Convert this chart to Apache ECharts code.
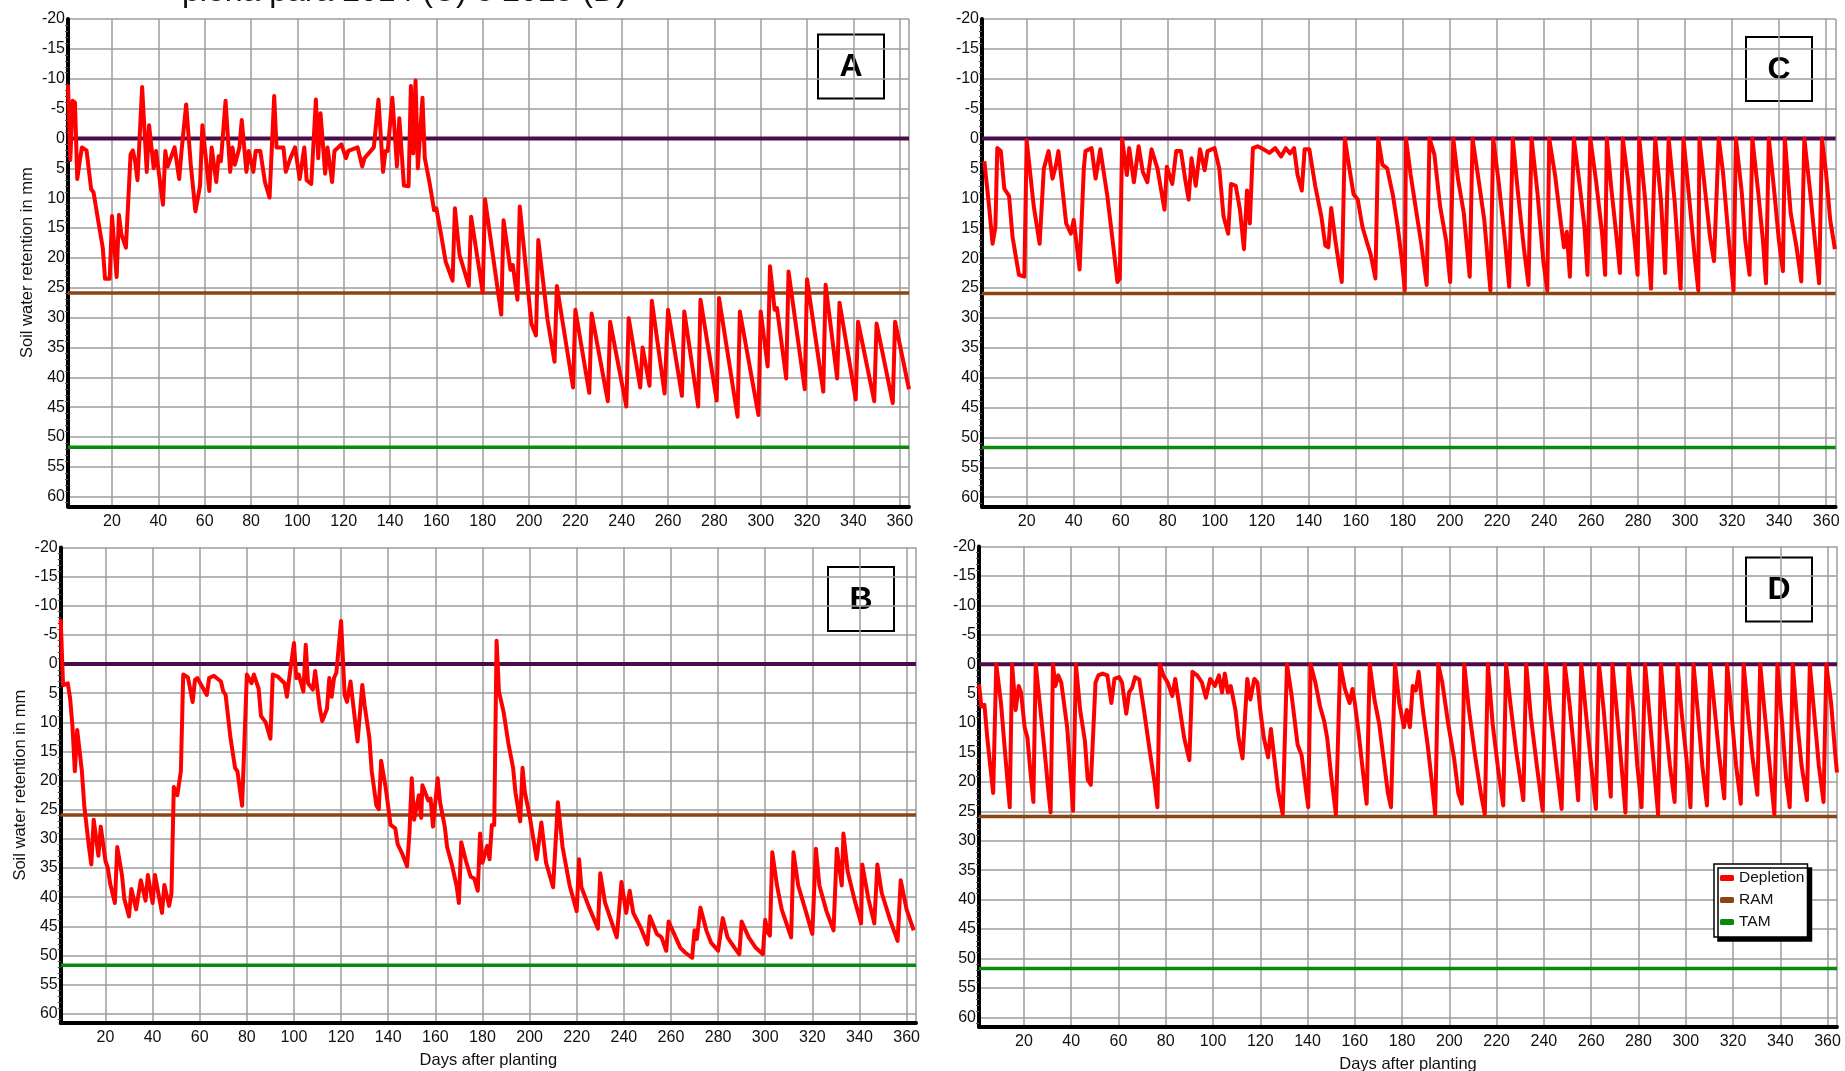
<!DOCTYPE html>
<html><head><meta charset="utf-8">
<script src="https://cdn.jsdelivr.net/npm/echarts@6/dist/echarts.min.js"></script>
<style>html,body{margin:0;padding:0;background:#fff;overflow:hidden}#c{width:1845px;height:1071px}</style>
</head><body><div id="c"></div>
<script>
// ---------- data ----------
const xTickLabels = [20,40,60,80,100,120,140,160,180,200,220,240,260,280,300,320,340,360];
const xGridValues = [20,40,60,80,100,120,140,160,180,200,220,240,260,280,300,320,340,360,364];
const dayMin = 1, dayMax = 364;
const yMin = -20, yMax = 61.6, yStep = 5;
const fieldCapacity = 0;
const ramLevel = 25.9;
const tamLevel = 51.7;
const seriesNames = ['Depletion', 'RAM', 'TAM'];
const panelLetters = ['A', 'B', 'C', 'D'];
const headerText = 'plena para 2014 (C) e 2015 (D)';
const yTitle = 'Soil water retention in mm';
const xTitle = 'Days after planting';

const depletionA = [[1,-9],[2,3.6],[3,-6.3],[4,-6],[5,6.8],[6,4],[7,1.5],[9,2],[11,8.5],[12,9],[14,13.7],[16,18.3],[17,23.5],[19,23.5],[20,13],[22,23.2],[23,12.8],[24,16],[26,18.3],[28,2.7],[29,2],[30,3.9],[31,7],[33,-8.6],[35,5.6],[36,-2.2],[38,5],[39,2.1],[42,11.1],[43,2.1],[44,4.7],[47,1.5],[49,6.8],[50,2.1],[52,-5.7],[54,4.4],[56,12.2],[58,7.9],[59,-2.2],[62,8.8],[63,1.5],[65,7.3],[66,3],[67,3.8],[69,-6.3],[71,5.6],[72,1.5],[73,4.4],[75,1.5],[76,-3.1],[78,5.6],[79,2.1],[81,5.6],[82,2.1],[84,2.1],[86,7.3],[88,9.9],[90,-7.1],[91,1.5],[94,1.5],[95,5.6],[97,3.3],[99,1.5],[101,6.8],[103,1.5],[104,7],[106,7.6],[108,-6.5],[109,3.3],[110,-4.2],[112,5.9],[113,1.5],[115,7.3],[116,2.1],[119,1],[121,3.3],[122,2.1],[126,1.5],[128,4.7],[129,3.3],[133,1.5],[135,-6.5],[137,5.6],[138,2.1],[139,2.1],[141,-6.8],[143,4.7],[144,-3.4],[146,7.9],[148,8],[149,-8.8],[150,2.5],[151,-9.7],[152,5],[154,-6.8],[155,3.3],[157,7.3],[159,12],[160,11.7],[162,16],[164,20.6],[167,23.8],[168,11.7],[170,19.5],[174,24.7],[175,13.1],[180,25.8],[181,10.2],[188,29.5],[189,13.7],[192,22],[193,21.2],[195,27],[196,11.4],[201,31],[203,33],[204,17],[208,30.4],[211,37.4],[212,24.7],[219,41.7],[220,28.7],[226,42.6],[227,29.3],[234,44],[235,30.7],[242,44.9],[243,30.1],[248,41.7],[249,35],[252,41.4],[253,27.2],[258.5,42.7],[260,28.7],[266,43.1],[267,29],[273,44.9],[274,27],[281,43.9],[282,26.7],[290,46.6],[291,29],[299,46.3],[300,29],[303,38.2],[304,21.4],[306,28.7],[307,28.4],[311,40.2],[312,22.3],[319,42],[320,23.6],[327,42.4],[328,24.5],[333,40.2],[334,27.5],[341,43.7],[342,30.7],[349,44],[350,31],[357,44.3],[358,30.7],[364,42]];

const depletionB = [[1,-7.7],[2,3.6],[4,3.3],[5,5.9],[6,10.7],[7,18.4],[8,11.3],[10,18.4],[11,24.3],[13,31.4],[14,34.4],[15,26.7],[17,32.9],[18,27.9],[20,33.8],[21,35],[22,37.7],[24,41],[25,31.4],[27,36.2],[28,40.3],[30,43.3],[31,38.6],[33,42.1],[35,37.1],[37,40.6],[38,36.2],[40,41],[41,36.2],[44,42.7],[45,37.9],[47,41.5],[48,39.4],[49,21.1],[50.5,22.5],[52,18.4],[53,1.8],[55,2.3],[57,6.5],[58,2.7],[59,2.4],[63,5.3],[64,2.4],[66,2],[69,3],[70,4.7],[71,5.3],[73,12.5],[75,17.8],[76,18.4],[78,24.3],[80,1.8],[82,3.3],[83,1.8],[85,4.2],[86,8.9],[88,10],[90,12.8],[91,1.8],[93,2.1],[96,3.3],[97,5.6],[98,2.4],[100,-3.6],[101,2.4],[102,1.8],[104,4.7],[105,-3.3],[106,3.3],[108,4.4],[109,1.2],[111,7.7],[112,9.8],[114,7.7],[115,2.4],[116,5.6],[117,2.4],[118,1.5],[120,-7.4],[121.5,5.3],[122.5,6.5],[124,3],[126,10],[127,13.3],[129,3.6],[130,7.1],[132,12.7],[133,18.4],[135,24.3],[136,24.9],[137,16.6],[139,21.4],[141,27.6],[143,28.2],[144,30.9],[146,32.6],[148,34.7],[149,29.1],[150,19.6],[151,26.7],[153,22.5],[154,26.4],[154.5,20.8],[157,23.4],[158,23.1],[159,27.9],[161,19.6],[162,23.7],[164,27.9],[165,31.4],[167,34.4],[169,38],[170,41],[171,30.6],[173,33.8],[175,36.5],[176.5,36.8],[178,38.9],[179,29.1],[180,34.1],[182,31.2],[183,33.5],[184,27.6],[185,27.6],[186,-4],[187,4.7],[189,8.3],[191,13.6],[193,17.8],[194,22],[196,27],[197,17.8],[198,22],[200,26],[203,33.5],[205,27.2],[207,34.1],[210,38.3],[212,23.7],[214,31.4],[217,38],[220,42.4],[221,33.5],[222,38.3],[225,41.5],[229,45.4],[230,35.9],[232,40.9],[235,44.5],[237,46.9],[239,37.4],[241,42.7],[242.5,38.9],[244,42.7],[247,45.1],[250,48.1],[251,43.3],[254,46.3],[256,46.9],[258,49.2],[259,44.2],[262,46.9],[264,48.7],[266,49.5],[269,50.4],[270,45.7],[271,47.2],[272.5,41.8],[275,45.7],[277,47.8],[280,49.2],[282,43.6],[284,46.9],[287,48.7],[289,49.8],[290,44.2],[293,46.9],[296,48.7],[299,49.8],[300,43.9],[301,46],[302,46.6],[303,32.3],[305,38],[307,42.1],[309,44.5],[311,46.9],[312,32.3],[314,38],[317,42.1],[320,46.3],[321.5,31.7],[323,38],[326,42.4],[329,45.7],[330.4,31.7],[332.5,38],[333.2,29.1],[335,35.6],[338,40.6],[340.7,44.5],[341.2,34.4],[343.8,40.3],[346.3,44.5],[347.6,34.4],[349.4,39.2],[353,43.9],[356.2,47.5],[357.5,37.1],[360,42.1],[363,45.7]];

const depletionC = [[2,3.8],[4,11.3],[5.5,17.6],[6.7,14.8],[7.5,1.6],[9,2.1],[10.5,8.4],[12.5,9.6],[14,16.5],[16.7,22.8],[19,23.1],[20,0.3],[23,11.3],[25.5,17.6],[27.3,5],[29.3,2.1],[31,6.7],[32.5,4.4],[33.5,2.1],[36.8,14.2],[38.8,15.9],[40,13.6],[42.5,21.9],[44.3,5],[45,2.1],[47.6,1.6],[49.3,6.7],[51.3,1.8],[54.3,9.6],[56.8,17.9],[58.6,24],[59.6,23.4],[60.6,0.1],[62.6,6.1],[63.6,1.6],[65.6,7.3],[67.6,1.3],[69.4,5.6],[71.3,7.3],[73.1,1.8],[75.6,5],[78.6,11.9],[79.6,4.7],[81.9,7.6],[83.6,2.1],[85.6,2.1],[87.6,7.3],[88.9,10.2],[90.1,3.3],[91.9,7.9],[93.7,1.8],[95.7,5.3],[96.9,2.1],[99.9,1.6],[101.9,5],[103.7,13],[105.7,15.9],[106.9,7.6],[108.9,7.9],[110.7,11.9],[112.4,18.5],[113.7,8.7],[114.9,14.2],[116.2,1.6],[118.2,1.3],[120.7,1.8],[123.2,2.4],[125.7,1.6],[128.2,3],[130.2,1.6],[132,2.5],[133.7,1.6],[135.2,6.1],[137,8.7],[138.2,1.8],[140.2,1.8],[142.7,7.9],[145.3,13],[147,17.9],[148.3,18.2],[149.5,11.6],[151.3,17.1],[152.8,21.1],[154,24],[155.3,0],[157,4.4],[159,9.3],[160.8,10.2],[162.8,14.8],[164.5,17.1],[166.3,19.4],[168.3,23.4],[169.5,0],[171.3,4.4],[173.3,5],[175.8,9.6],[177.8,14.8],[179.6,20.5],[180.8,25.4],[181.3,0],[183.3,6.1],[185.8,12.5],[187.8,17.6],[190.1,24.5],[191.3,0],[193.4,2.7],[195.8,11.3],[198.4,17.1],[200.1,24],[201.4,0],[203.4,6.7],[205.9,12.5],[208.4,23.1],[209.6,0],[212.1,6.7],[214.6,13.6],[217.2,25.4],[218.4,0],[220.9,7.9],[223.4,17.1],[225.2,24.8],[226.7,0],[228.9,9],[231.4,18.2],[233.4,24.5],[234.7,0],[237.2,9],[239.7,20.5],[241.4,25.4],[242.2,0],[244.7,6.1],[247.2,14.2],[248.5,18.2],[249.7,15.6],[251,23.1],[252.7,0],[255.2,7.9],[257.2,14.8],[258.5,22.8],[259.7,0],[262.2,7.3],[264.7,15.9],[266,22.8],[266.7,0],[268.5,7.9],[271,17.1],[272.3,22.5],[273.5,0],[276,7.9],[278.5,17.1],[279.8,22.8],[280.5,0],[283,10.2],[285.5,25.1],[287.3,0],[289.8,10.7],[291.5,22.5],[293,0],[295.6,10.7],[298.1,25.1],[299.3,0],[301.8,10.2],[304.1,19.9],[305.6,25.4],[306.1,0],[308.6,9],[310.6,16.5],[312.3,20.5],[314.3,0],[316.1,5.6],[318.6,17.1],[320.6,25.4],[321.6,0],[324.1,9],[325.6,17.1],[327.4,22.8],[328.6,0],[331.1,9],[333.1,17.1],[334.4,24.2],[335.6,0],[338.1,9.6],[339.9,17.1],[341.6,22.2],[342.4,0],[344.9,12.5],[347.4,18.2],[349.4,23.9],[350.7,0],[353.2,9],[355.2,17.1],[357,24.2],[358.2,0],[359.9,5.6],[361.7,13.6],[363.7,18.5]];

const depletionD = [[1,3.4],[2,7.2],[3.3,6.9],[4.5,12.5],[7,21.9],[8.3,0],[10.3,6.6],[12,14.9],[14,24.3],[15,0],[16.5,7.8],[17.8,3.7],[18.8,4.8],[20.3,10.7],[21.5,12.5],[22.5,17.2],[24,23.4],[25,0],[27,7.8],[28.8,14.9],[30.3,21.4],[31.3,25.2],[32.3,0],[33.3,3.7],[34.5,1.9],[35.8,3.1],[38.3,10.7],[40.8,24.9],[42,0],[43.8,7.8],[45.8,13],[47,19.6],[48.3,20.5],[49,20.5],[50.3,3.1],[51.5,1.9],[53.3,1.6],[55.3,1.9],[57,6.6],[58.3,2.5],[60.3,2.2],[61.5,3.1],[63.3,8.4],[64.5,4.8],[65.8,4],[67,2.2],[68.8,2.6],[70.8,7.8],[73.3,14.9],[75.3,20.2],[76.5,24.3],[77.5,0],[79,1.9],[80.8,3.1],[82.8,5.4],[84,2.5],[85.8,7.2],[87.8,12.5],[90,16.3],[91.3,1.3],[93.3,1.9],[95.3,3.1],[97,5.7],[98.8,2.5],[100.8,3.7],[102.5,1.9],[103.8,4.8],[105,1.6],[106.3,4.8],[107.5,3.7],[109.5,7.8],[110.8,12.5],[112.5,16],[113.3,16],[114.5,2.5],[115.8,6],[117.5,2.5],[118.8,3.1],[120,7.8],[121.5,12.5],[123.3,15.8],[124.5,11],[125.8,15.5],[127.5,21.4],[129.5,25.5],[131.3,0],[133.3,5.4],[135.8,13.7],[137.5,15.5],[139.5,21.9],[140.3,24.3],[141.3,0],[143.3,3.1],[145.3,7.2],[147,9.6],[148.3,12.5],[150,19],[152,25.5],[153.8,0],[155.8,4.2],[157.8,6.6],[159,4.2],[160,6.6],[161.5,11.3],[163.3,17.8],[165,23.7],[166.3,0],[168.3,6],[170.3,10.1],[172,15.5],[174,21.9],[175.3,24.3],[177,0],[178.8,6.6],[180.8,10.7],[182,7.8],[183.3,10.7],[184.5,3.7],[185.8,4.5],[187,1.3],[188.8,7.8],[190.8,13.7],[192.8,20.8],[194,25.5],[195.3,0],[197,3.1],[199.5,10.1],[202,16],[203.8,21.9],[205.3,23.7],[206.3,0],[208.3,7.8],[210.8,15.3],[213.3,21.9],[215,25.5],[216.3,0],[218.3,10.1],[220.8,18.4],[222.8,24],[224,0],[225.8,6.6],[228.3,14.9],[231.3,23.1],[232.5,0],[234.5,9],[237,17.2],[239.5,24.9],[240.8,0],[242.8,8.4],[245.3,17.2],[247.5,24.6],[248.8,0],[250.8,6.6],[252.8,14.9],[254.5,23.1],[255.8,0],[257.8,8.4],[260,17.2],[262,24.6],[263.3,0],[265.3,7.8],[267,16],[268.3,22.5],[269,0],[270.8,7.8],[272.8,17.2],[274.5,25.2],[275.8,0],[277.8,7.8],[279.5,17.2],[281.3,24.3],[282.8,0],[284.5,7.8],[286.5,17.2],[288.3,25.5],[289.5,0],[291.3,9],[293.3,17.2],[295.3,23.4],[296.5,0],[298.3,8.4],[300.3,16],[302,24.3],[303.3,0],[305.3,9],[307,17.2],[309,24],[310.3,0],[312,6.6],[314,14.9],[316.3,22.8],[317.5,0],[319.5,9],[321.3,17.2],[323.3,23.7],[324.5,0],[326.5,9],[328.3,16],[330.3,22.2],[331.5,0],[333.3,7.8],[335.8,18.4],[337.5,25.5],[338.8,0],[340.8,10.1],[342.5,19.6],[344,24.3],[345.3,0],[347,9],[349,17.2],[351.3,23.1],[352.5,0],[354.5,9],[356.3,17.2],[358.3,23.4],[359.5,0],[361.5,6.6],[363.3,15.5],[364,18.4]];

const depletionSets = [depletionA, depletionB, depletionC, depletionD];

// ---------- layout / style ----------
const FONT = '"Liberation Sans", Arial, sans-serif';
const gridBoxes = [
  {left: 68,   top: 19,    width: 841,   height: 487.3},
  {left: 60.7, top: 547.5, width: 855.3, height: 475.5},
  {left: 982,  top: 19,    width: 853.6, height: 487.8},
  {left: 979,  top: 546.5, width: 858,   height: 480.2}
];
const letterBoxes = [
  {left: 817,  top: 33.5},
  {left: 827,  top: 566},
  {left: 1745, top: 36},
  {left: 1745, top: 556.5}
];
const showYName = [true, true, false, false];
const showXName = [false, true, false, true];
const COL = {dep: '#ff0000', fc: '#4b0c4b', ram: '#8b4513', tam: '#0a8a0a', grid: '#9c9c9c', axis: '#000', text: '#111'};

const grids = [], xAxes = [], yAxes = [], series = [];
gridBoxes.forEach((g, i) => {
  grids.push(Object.assign({containLabel: false, outerBoundsMode: 'none'}, g));
  xAxes.push({
    type: 'value', gridIndex: i, min: dayMin, max: dayMax,
    axisLine: {show: true, onZero: false, lineStyle: {color: COL.axis, width: 4}},
    axisTick: {show: false, customValues: xGridValues},
    axisLabel: {customValues: xTickLabels, margin: 7, fontSize: 16, color: COL.text, fontFamily: FONT},
    splitLine: {show: true, lineStyle: {color: COL.grid, width: 1.5}},
    name: showXName[i] ? xTitle : '', nameLocation: 'middle', nameGap: 29, nameMoveOverlap: false,
    nameTextStyle: {fontSize: 16.5, color: COL.text, fontFamily: FONT}
  });
  yAxes.push({
    type: 'value', gridIndex: i, inverse: true, min: yMin, max: yMax, interval: yStep,
    axisLine: {show: true, onZero: false, lineStyle: {color: COL.axis, width: 4}},
    axisTick: {show: false},
    minorTick: {show: true, splitNumber: 5, length: 3, lineStyle: {color: '#555', width: 1}},
    axisLabel: {showMaxLabel: false, margin: 3, fontSize: 16, color: COL.text, fontFamily: FONT},
    splitLine: {show: true, lineStyle: {color: COL.grid, width: 1.5}},
    name: showYName[i] ? yTitle : '', nameLocation: 'middle', nameRotate: 90, nameGap: 32, nameMoveOverlap: false,
    nameTextStyle: {fontSize: 16.5, color: COL.text, fontFamily: FONT}
  });
  const base = {type: 'line', xAxisIndex: i, yAxisIndex: i, showSymbol: false, symbol: 'none', silent: true, animation: false};
  series.push(Object.assign({}, base, {name: 'Field capacity', data: [[dayMin, fieldCapacity], [dayMax, fieldCapacity]], lineStyle: {color: COL.fc, width: 4}, itemStyle: {color: COL.fc}, z: 2}));
  series.push(Object.assign({}, base, {name: seriesNames[1], data: [[dayMin, ramLevel], [dayMax, ramLevel]], lineStyle: {color: COL.ram, width: 3.5}, itemStyle: {color: COL.ram}, z: 2}));
  series.push(Object.assign({}, base, {name: seriesNames[2], data: [[dayMin, tamLevel], [dayMax, tamLevel]], lineStyle: {color: COL.tam, width: 3.5}, itemStyle: {color: COL.tam}, z: 2}));
  series.push(Object.assign({}, base, {name: seriesNames[0], data: depletionSets[i], lineStyle: {color: COL.dep, width: 4, join: 'round'}, itemStyle: {color: COL.dep}, z: 3}));
});

const graphics = [];
panelLetters.forEach((L, i) => {
  const b = letterBoxes[i];
  graphics.push({type: 'group', left: b.left, top: b.top, z: 100, children: [
    {type: 'rect', shape: {x: 0, y: 0, width: 66, height: 64}, style: {fill: '#fff', stroke: '#000', lineWidth: 2}},
    {type: 'text', x: 33, y: 33, style: {text: L, font: 'bold 32px ' + FONT, fill: '#000', align: 'center', verticalAlign: 'middle'}}
  ]});
});
graphics.push({type: 'text', left: 182, top: -24, z: 100, style: {text: headerText, font: '32px ' + FONT, fill: '#111'}});

const chart = echarts.init(document.getElementById('c'), null, {renderer: 'canvas'});
chart.setOption({
  animation: false,
  backgroundColor: '#fff',
  grid: grids, xAxis: xAxes, yAxis: yAxes, series: series,
  legend: {
    left: 1714, top: 864, orient: 'vertical', selectedMode: false,
    data: [{name: seriesNames[0], icon: 'roundRect'}, {name: seriesNames[1], icon: 'roundRect'}, {name: seriesNames[2], icon: 'roundRect'}],
    itemWidth: 14, itemHeight: 6, itemGap: 6, padding: [6, 3, 7, 6],
    backgroundColor: '#fff', borderColor: '#000', borderWidth: 1.5,
    shadowColor: '#000', shadowBlur: 0, shadowOffsetX: 4, shadowOffsetY: 4,
    textStyle: {fontSize: 15.5, color: '#111', fontFamily: FONT, lineHeight: 16}
  },
  graphic: graphics
});
</script></body></html>
